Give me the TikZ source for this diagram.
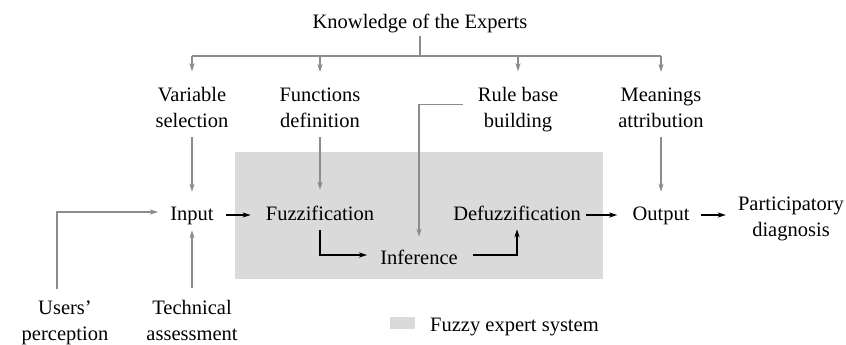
\documentclass[tikz,border=0pt]{standalone}
\usepackage{fontspec}
\setmainfont{Liberation Serif}
\usetikzlibrary{arrows.meta}
\definecolor{lgray}{HTML}{8C8C8C}
\definecolor{boxgray}{HTML}{D9DAD9}
\begin{document}
\begin{tikzpicture}[x=1bp,y=-1bp,
  every node/.style={inner sep=0pt,font=\fontsize{20.5bp}{26bp}\selectfont},
  lbl/.style={align=center,text depth=0pt,anchor=south},
  one/.style={text height=14bp,text depth=4bp,anchor=base},
  garrow/.style={draw=lgray,line width=1.4bp,-{Stealth[length=8bp,width=5bp,inset=2bp]}},
  gline/.style={draw=lgray,line width=1.4bp},
  barrow/.style={draw=black,line width=1.4bp,-{Stealth[length=8bp,width=5bp,inset=2bp]}}]
\useasboundingbox (0,0) rectangle (846,344);
% system box
\fill[boxgray] (235,152) rectangle (603,279);
\fill[boxgray] (390,317) rectangle (415,329);
% nodes
\node[one] (know) at (420,28) {Knowledge of the Experts};
\node[lbl] (var) at (192,128) {Variable\\selection};
\node[lbl] (fun) at (320,128) {Functions\\definition};
\node[lbl] (rule) at (518,128) {Rule base\\building};
\node[lbl] (mean) at (661,128) {Meanings\\attribution};
\node[one] (inp) at (192,220) {Input};
\node[one] (fuzz) at (320,220) {Fuzzification};
\node[one] (inf) at (419,264) {Inference};
\node[one] (defz) at (517,220) {Defuzzification};
\node[one] (out) at (661,220) {Output};
\node[lbl] (part) at (791,237) {Participatory\\diagnosis};
\node[lbl] (users) at (65,341) {Users’\\perception};
\node[lbl] (tech) at (192,341) {Technical\\assessment};
\node[one,anchor=base west] (leg) at (430,331) {Fuzzy expert system};
% experts tree
\coordinate (br) at (420,56);
\draw[gline,shorten <=4bp] (know.south) -- (br);
\draw[gline] (var.north |- br) -- (mean.north |- br);
\draw[garrow,shorten >=16bp] (var.north |- br) -- (var.north);
\draw[garrow,shorten >=16bp] (fun.north |- br) -- (fun.north);
\draw[garrow,shorten >=16bp] (rule.north |- br) -- (rule.north);
\draw[garrow,shorten >=16bp] (mean.north |- br) -- (mean.north);
% labels down to row
\draw[garrow,shorten <=9bp,shorten >=14bp] (var.south) -- (inp.north);
\draw[garrow,shorten <=9bp,shorten >=16bp] (fun.south) -- (fuzz.north);
\draw[garrow,shorten <=9bp,shorten >=14bp] (mean.south) -- (out.north);
\draw[garrow,shorten <=15bp,shorten >=13bp] ([yshift=3bp]rule.west) -| (inf.north);
% inputs from below
\draw[garrow,shorten <=12bp,shorten >=12bp] ([xshift=-8bp]users.north) |- ([yshift=3bp]inp.west);
\draw[garrow,shorten <=12bp,shorten >=6bp] (tech.north) -- (inp.south);
% main flow
\draw[barrow,shorten <=12bp,shorten >=15bp] (inp.east) -- (fuzz.west);
\draw[barrow,shorten <=6bp,shorten >=13bp] (fuzz.south) |- ([yshift=4bp]inf.west);
\draw[barrow,shorten <=15bp,shorten >=5bp] ([yshift=4bp]inf.east) -| (defz.south);
\draw[barrow,shorten <=5bp,shorten >=15bp] (defz.east) -- (out.west);
\draw[barrow,shorten <=11bp,shorten >=12bp] (out.east) -- (out.east -| part.west);
\end{tikzpicture}
\end{document}
